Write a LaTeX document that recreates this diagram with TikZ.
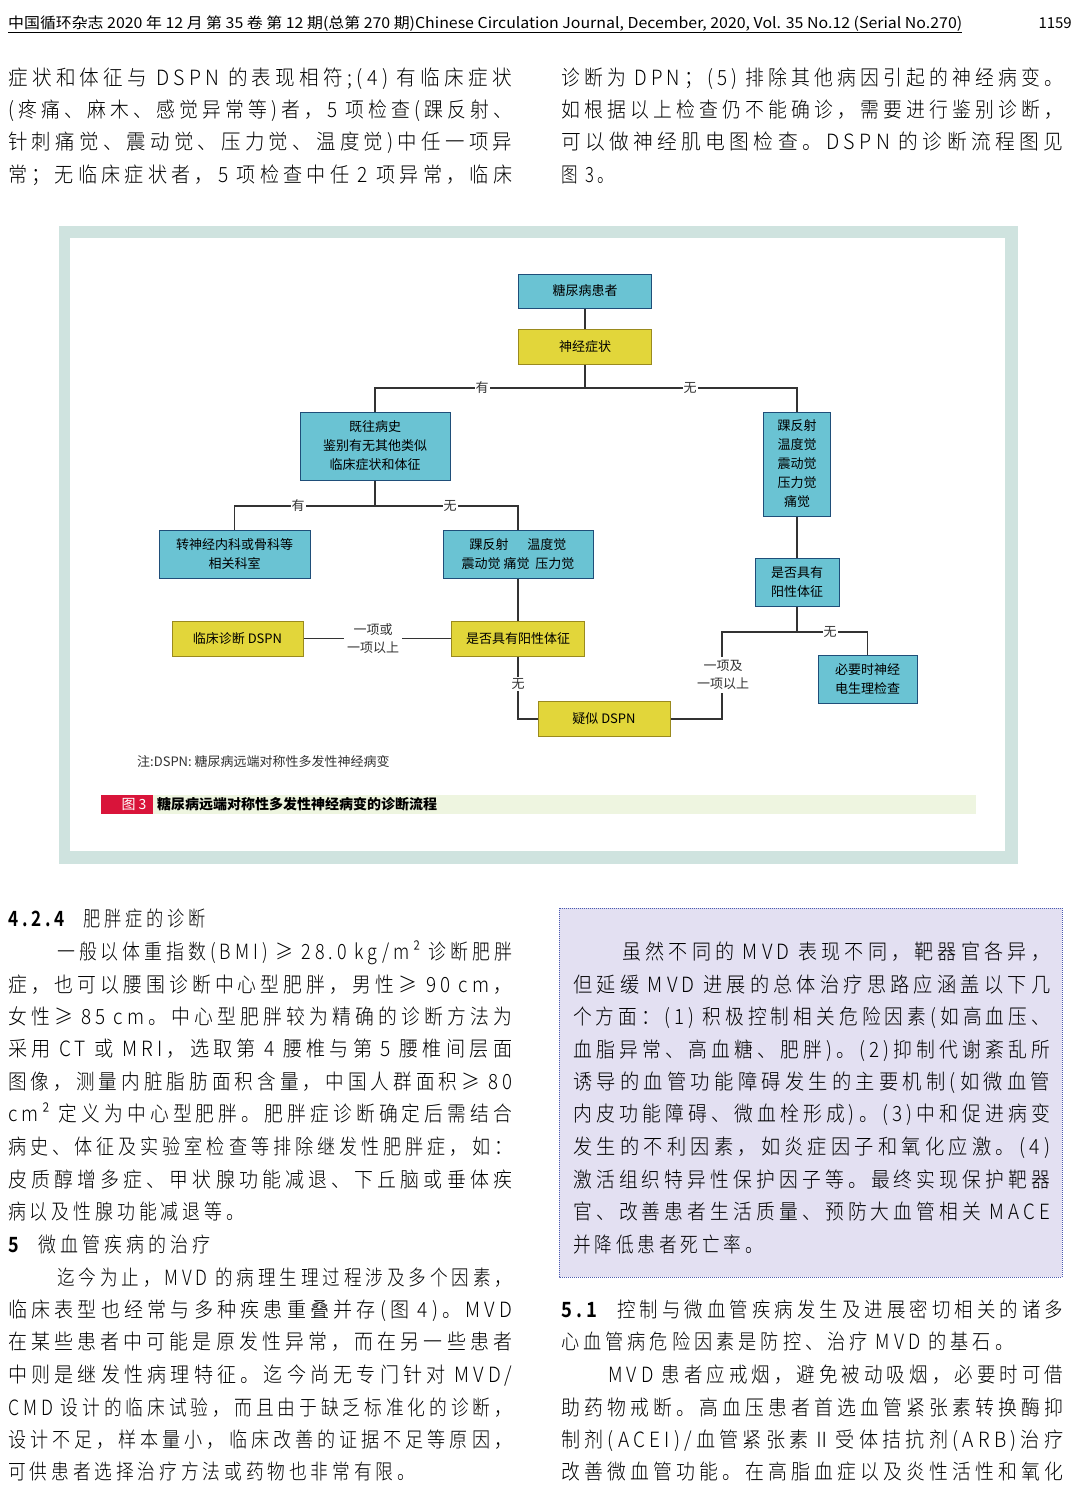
\documentclass[tikz,border=0pt]{standalone}
\usepackage{fontspec}
\setmainfont{Noto Sans CJK SC}
\newfontfamily\bodyf[LetterSpace=22]{Noto Sans CJK SC Light}
\newfontfamily\flf{Noto Sans CJK SC}
\definecolor{cy}{HTML}{6AC3D3}
\definecolor{cyb}{HTML}{1F4E79}
\definecolor{ye}{HTML}{E2D63A}
\definecolor{yeb}{HTML}{9A8A1E}
\definecolor{frame}{HTML}{CFE3DF}
\definecolor{lav}{HTML}{E3E0F2}
\definecolor{lavb}{HTML}{4A5AB0}
\definecolor{capred}{HTML}{D9143A}
\definecolor{capgr}{HTML}{EEF5E0}
\definecolor{ln}{HTML}{333333}
\newcommand{\FL}[4]{\node[anchor=base west,inner sep=0] at (#1,#2) {\resizebox{#3pt}{\height}{\fontsize{21}{21}\bodyf #4}};}
\newcommand{\SL}[3]{\node[anchor=base west,inner sep=0] at (#1,#2) {\fontsize{21}{21}\bodyf #3};}
\tikzset{
 cbox/.style={draw=cyb,fill=cy,line width=1pt,inner sep=0,align=center,font=\fontsize{13}{19}\flf},
 ybox/.style={draw=yeb,fill=ye,line width=1pt,inner sep=0,align=center,font=\fontsize{13}{19}\flf},
 lab/.style={fill=white,inner sep=1pt,align=center,font=\fontsize{13}{18}\flf,text=ln},
 cn/.style={draw=ln,line width=1.2pt}
}
\begin{document}
\begin{tikzpicture}[x=1pt,y=-1pt]
\useasboundingbox (0,0) rectangle (1080,1499);
\fill[white] (0,0) rectangle (1080,1499);
% header
\node[anchor=base west,inner sep=0] at (8,28) {\resizebox{954pt}{\height}{\fontsize{15}{15}\selectfont 中国循环杂志 2020 年 12 月 第 35 卷 第 12 期(总第 270 期)Chinese Circulation Journal, December, 2020, Vol. 35 No.12 (Serial No.270)}};
\draw[line width=0.8pt] (8,32) -- (962,32);
\node[anchor=base east,inner sep=0] at (1072,28) {\fontsize{15}{15}\selectfont 1159};
% top text
\FL{8}{85}{504}{症状和体征与 DSPN 的表现相符;(4) 有临床症状}
\FL{8}{117}{504}{(疼痛、麻木、感觉异常等)者，5 项检查(踝反射、}
\FL{8}{149}{504}{针刺痛觉、震动觉、压力觉、温度觉)中任一项异}
\FL{8}{182}{504}{常；无临床症状者，5 项检查中任 2 项异常，临床}
\FL{561}{85}{502}{诊断为 DPN；(5) 排除其他病因引起的神经病变。}
\FL{561}{117}{502}{如根据以上检查仍不能确诊，需要进行鉴别诊断，}
\FL{561}{149}{502}{可以做神经肌电图检查。DSPN 的诊断流程图见}
\FL{561}{182}{53}{图 3。}
% frame
\fill[frame] (59,226) rectangle (1018,864);
\fill[white] (70,238) rectangle (1005,851);
% flowchart
\node[cbox,minimum width=133pt,minimum height=34pt] (a) at (585,291) {糖尿病患者};
\node[ybox,minimum width=133pt,minimum height=35pt] (b) at (585,347) {神经症状};
\node[cbox,minimum width=150pt,minimum height=68pt] (c) at (375,446) {既往病史\\鉴别有无其他类似\\临床症状和体征};
\node[cbox,minimum width=67pt,minimum height=104pt] (r) at (797,464) {踝反射\\温度觉\\震动觉\\压力觉\\痛觉};
\node[cbox,minimum width=151pt,minimum height=48pt] (d) at (234.5,554) {转神经内科或骨科等\\相关科室};
\node[cbox,minimum width=150pt,minimum height=48pt] (e) at (518,554) {踝反射\quad\ \ 温度觉\\震动觉 痛觉\ \ 压力觉};
\node[cbox,minimum width=84pt,minimum height=48pt] (s) at (797,582) {是否具有\\阳性体征};
\node[ybox,minimum width=131pt,minimum height=35pt] (g) at (237.5,638.5) {临床诊断 DSPN};
\node[ybox,minimum width=133pt,minimum height=35pt] (f) at (518,638.5) {是否具有阳性体征};
\node[ybox,minimum width=132pt,minimum height=35pt] (h) at (604,719) {疑似 DSPN};
\node[cbox,minimum width=99pt,minimum height=48pt] (t) at (867.5,679) {必要时神经\\电生理检查};
\coordinate (j1) at (585,388);
\coordinate (j2) at (375,506);
\coordinate (j3) at (797,632);
\coordinate (k) at (722,719);
\draw[cn] (a) -- (b);
\draw[cn] (b.south) -- (j1);
\draw[cn] (c.north) |- (j1) -| (r.north);
\draw[cn] (c.south) -- (j2);
\draw[cn] (d.north) |- (j2) -| (e.north);
\draw[cn] (e.south) -- (f.north);
\draw[cn] (f.west) -- (g.east);
\draw[cn] (f.south) |- (h.west);
\draw[cn] (r.south) -- (s.north);
\draw[cn] (s.south) -- (j3);
\draw[cn] (t.north) |- (j3) -| (k) -- (h.east);
\node[lab] at (482,388) {有};
\node[lab] at (690,388) {无};
\node[lab] at (298,506) {有};
\node[lab] at (450,506) {无};
\node[lab,inner sep=3pt] at (373,639) {一项或\\一项以上};
\node[lab] at (518,684) {无};
\node[lab] at (830,632) {无};
\node[lab,inner sep=3pt] at (723,675) {一项及\\一项以上};
\node[anchor=west,inner sep=0,text=ln,font=\fontsize{13}{13}\flf] at (137,762) {注:DSPN: 糖尿病远端对称性多发性神经病变};
\fill[capgr] (153,795) rectangle (976,814);
\fill[capred] (101,795) rectangle (153,814);
\node[text=white,font=\fontsize{14}{14}\flf] at (134,804.5) {图 3};
\node[anchor=west,inner sep=0,font=\fontsize{14}{14}\flf\bfseries] at (157,804.5) {糖尿病远端对称性多发性神经病变的诊断流程};
% lower left
\node[anchor=base west,inner sep=0] at (8,926) {\resizebox{198pt}{\height}{\fontsize{21}{21}\bodyf\textbf{4.2.4}\ \ 肥胖症的诊断}};
\FL{57}{959}{455}{一般以体重指数(BMI) ≥ 28.0 kg/m² 诊断肥胖}
\FL{8}{992}{504}{症，也可以腰围诊断中心型肥胖，男性≥ 90 cm，}
\FL{8}{1024}{504}{女性≥ 85 cm。中心型肥胖较为精确的诊断方法为}
\FL{8}{1056}{504}{采用 CT 或 MRI，选取第 4 腰椎与第 5 腰椎间层面}
\FL{8}{1089}{504}{图像，测量内脏脂肪面积含量，中国人群面积≥ 80}
\FL{8}{1121}{504}{cm² 定义为中心型肥胖。肥胖症诊断确定后需结合}
\FL{8}{1154}{504}{病史、体征及实验室检查等排除继发性肥胖症，如：}
\FL{8}{1187}{504}{皮质醇增多症、甲状腺功能减退、下丘脑或垂体疾}
\FL{8}{1219}{236}{病以及性腺功能减退等。}
\node[anchor=base west,inner sep=0] at (8,1252) {\resizebox{202pt}{\height}{\fontsize{21}{21}\bodyf\textbf{5}\ \ 微血管疾病的治疗}};
\FL{57}{1285}{455}{迄今为止，MVD 的病理生理过程涉及多个因素，}
\FL{8}{1317}{504}{临床表型也经常与多种疾患重叠并存(图 4)。MVD}
\FL{8}{1349}{504}{在某些患者中可能是原发性异常，而在另一些患者}
\FL{8}{1382}{504}{中则是继发性病理特征。迄今尚无专门针对 MVD/}
\FL{8}{1415}{504}{CMD 设计的临床试验，而且由于缺乏标准化的诊断，}
\FL{8}{1447}{504}{设计不足，样本量小，临床改善的证据不足等原因，}
\FL{8}{1479}{407}{可供患者选择治疗方法或药物也非常有限。}
% box right
\draw[fill=lav,draw=lavb,densely dotted,line width=1pt] (559,908) rectangle (1062,1277);
\FL{622}{959}{428}{虽然不同的 MVD 表现不同，靶器官各异，}
\FL{573}{992}{477}{但延缓 MVD 进展的总体治疗思路应涵盖以下几}
\FL{573}{1024}{477}{个方面：(1) 积极控制相关危险因素(如高血压、}
\FL{573}{1057}{477}{血脂异常、高血糖、肥胖)。(2)抑制代谢紊乱所}
\FL{573}{1089}{477}{诱导的血管功能障碍发生的主要机制(如微血管}
\FL{573}{1121}{477}{内皮功能障碍、微血栓形成)。(3)中和促进病变}
\FL{573}{1154}{477}{发生的不利因素，如炎症因子和氧化应激。(4)}
\FL{573}{1187}{477}{激活组织特异性保护因子等。最终实现保护靶器}
\FL{573}{1219}{477}{官、改善患者生活质量、预防大血管相关 MACE}
\FL{573}{1252}{190}{并降低患者死亡率。}
% lower right
\FL{561}{1317}{502}{\textbf{5.1}\ \ 控制与微血管疾病发生及进展密切相关的诸多}
\FL{561}{1349}{452}{心血管病危险因素是防控、治疗 MVD 的基石。}
\FL{608}{1382}{455}{MVD 患者应戒烟，避免被动吸烟，必要时可借}
\FL{561}{1415}{502}{助药物戒断。高血压患者首选血管紧张素转换酶抑}
\FL{561}{1447}{502}{制剂(ACEI)/血管紧张素Ⅱ受体拮抗剂(ARB)治疗}
\FL{561}{1479}{502}{改善微血管功能。在高脂血症以及炎性活性和氧化}
\end{tikzpicture}
\end{document}
